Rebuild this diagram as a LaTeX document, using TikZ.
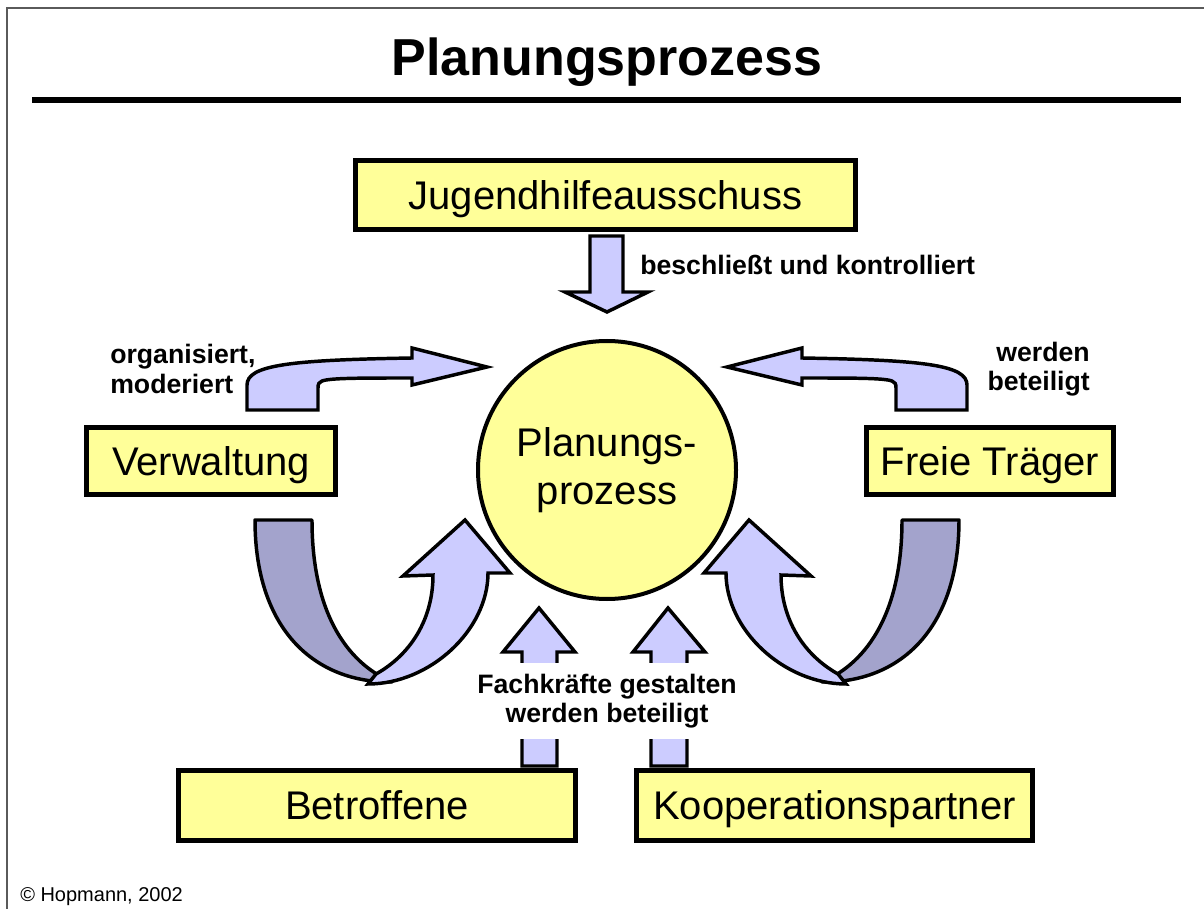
\documentclass[tikz,border=0pt]{standalone}
\usepackage{fontspec}
\setmainfont{Liberation Sans}
\definecolor{boxyellow}{RGB}{255,255,153}
\definecolor{lightarrow}{RGB}{204,204,255}
\definecolor{darkarrow}{RGB}{163,163,204}
\definecolor{framegray}{RGB}{90,90,90}
\begin{document}
\begin{tikzpicture}[x=0.75pt,y=-0.75pt,
  ybox/.style={draw=black, line width=4.4pt, fill=boxyellow, inner sep=0pt,
               font=\fontsize{30}{36}\selectfont, text height=21.5pt, text depth=0pt},
  arrowshape/.style={draw=black, line width=2.6pt, fill=lightarrow, line join=miter},
  darkshape/.style={draw=black, line width=2.6pt, fill=darkarrow, line join=round},
  lbl/.style={font=\bfseries\fontsize{20}{22}\selectfont, inner sep=0pt, align=center},
  uarrow/.pic={
    \path[darkshape] (255,520) -- (312,520) .. controls (312,610) and (345,662) .. (392,682) .. controls (315,683) and (255,630) .. (255,520) -- cycle;
    \path[arrowshape] (368,684) .. controls (430,684) and (488,630) .. (488,573) -- (510,573) -- (465,520) -- (403,576) -- (433,575) .. controls (433,620) and (410,655) .. (376,674) -- cycle;
  },
  topcurve/.pic={
    \path[arrowshape] (247,410) -- (247,385) .. controls (247,365) and (290,360) .. (412,358) -- (412,348) -- (487,367) -- (412,385) -- (412,378) .. controls (360,378) and (330,378) .. (322,381) .. controls (319,382) and (318,384) .. (318,388) -- (318,410) -- cycle;
  }
]
\useasboundingbox (0,0) rectangle (1204,909);
\fill[white] (0,0) rectangle (1204,909);
% frame
\draw[line width=1.2pt, framegray] (7,909) -- (7,8) -- (1204,8);
% title
\node[font=\bfseries\fontsize{39}{44}\selectfont, inner sep=0pt] (title) at (607,62) {Planungsprozess};
\fill[black] (32,97) rectangle (1181,103);

% boxes
\node[ybox, minimum width=500*0.75pt, minimum height=69*0.75pt] (jug) at (605.5,195) {Jugendhilfeausschuss};
\node[ybox, minimum width=249*0.75pt, minimum height=67*0.75pt] (verw) at (211,461) {Verwaltung};
\node[ybox, minimum width=247*0.75pt, minimum height=67*0.75pt] (freie) at (990,461) {Freie Träger};
\node[ybox, minimum width=397*0.75pt, minimum height=70*0.75pt] (betr) at (377,805.5) {Betroffene};
\node[ybox, minimum width=396*0.75pt, minimum height=70*0.75pt] (koop) at (834.5,805.5) {Kooperationspartner};

% circle
\node[circle, draw=black, line width=3pt, fill=boxyellow, minimum size=258*0.75pt, inner sep=0pt,
      align=center, font=\fontsize{30}{36}\selectfont] (plan) at (607,470) {Planungs-\\prozess};

% top down arrow
\path[arrowshape] (590,236) -- (623,236) -- (623,292) -- (648,292) -- (607,312) -- (565,292) -- (590,292) -- cycle;
\node[lbl, anchor=west] (lbeschl) at (640,265) {beschließt und kontrolliert};

% top curved arrows
\pic at (0,0) {topcurve};
\pic[xscale=-1] at (1214,0) {topcurve};
\node[lbl, align=left, anchor=west] (lorg) at (110,369) {organisiert,\\moderiert};
\node[lbl, align=right, anchor=east] (lwerd) at (1090,369) {werden\\beteiligt};

% U arrows
\pic at (0,0) {uarrow};
\pic[xscale=-1] at (1214,0) {uarrow};

% bottom up arrows
\path[arrowshape] (522,766) -- (522,652) -- (503,652) -- (539,608) -- (575,652) -- (557,652) -- (557,766) -- cycle;
\path[arrowshape] (651,766) -- (651,652) -- (633,652) -- (668,608) -- (705,652) -- (687,652) -- (687,766) -- cycle;
\node[lbl, fill=white, inner xsep=2pt, inner ysep=4pt, minimum height=76*0.75pt] (lfach) at (607,701) {Fachkräfte gestalten\\werden beteiligt};

% copyright
\node[anchor=base west, font=\fontsize{15}{18}\selectfont, inner sep=0pt] (copy) at (20,901) {© Hopmann, 2002};
\end{tikzpicture}
\end{document}
